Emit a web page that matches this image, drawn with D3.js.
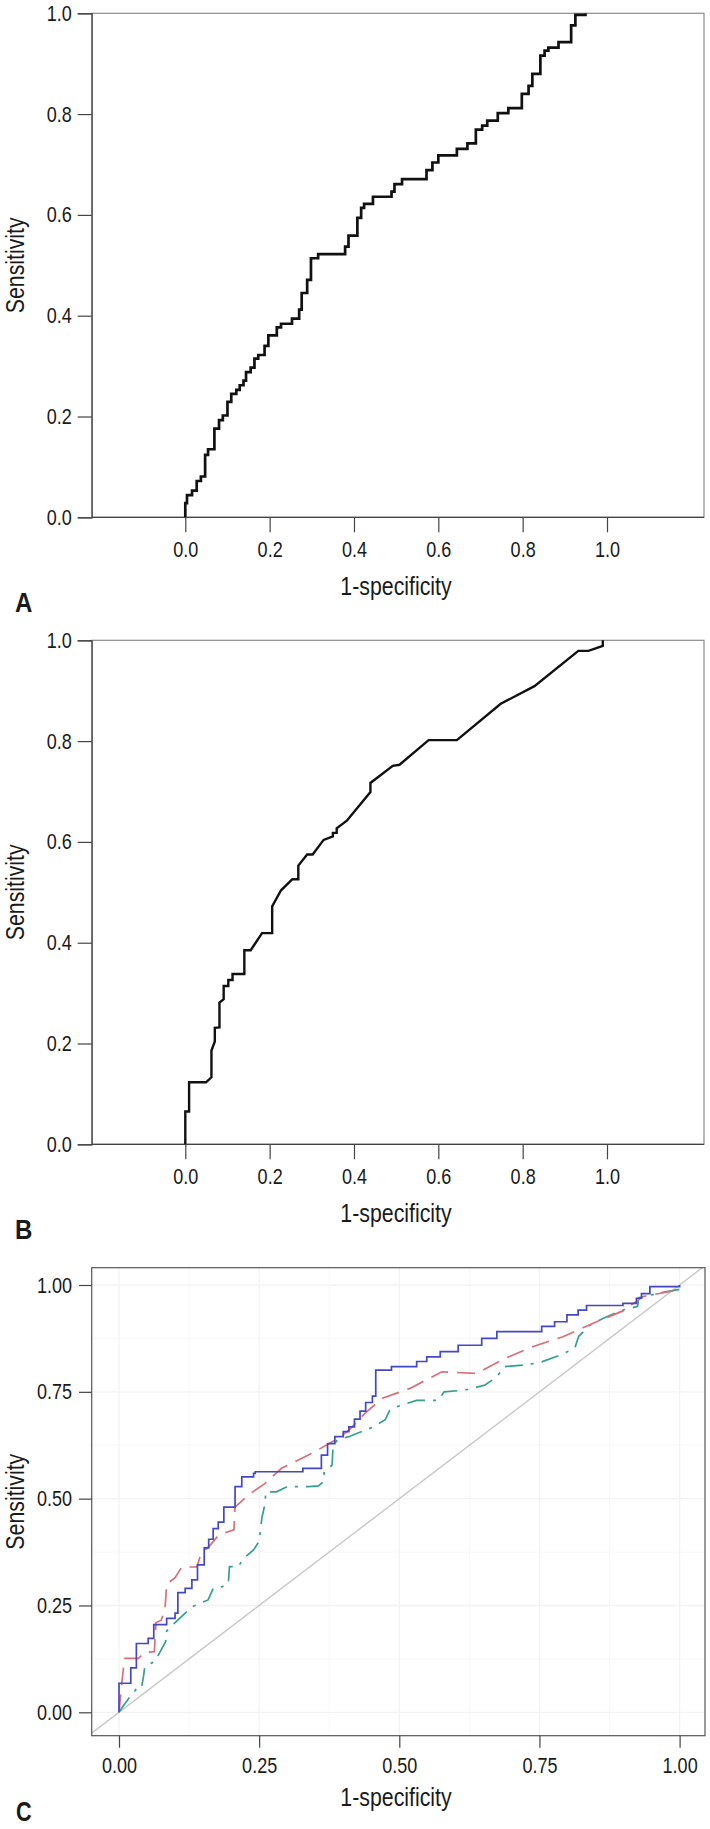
<!DOCTYPE html>
<html>
<head>
<meta charset="utf-8">
<script src="https://cdn.jsdelivr.net/npm/d3@7"></script>
<style>
  body { margin: 0; background: #fff; }
  text { font-family: 'Liberation Sans', Arial, sans-serif; fill: #1a1a1a; }
</style>
</head>
<body>
<div id="chart"></div>
<script>
// ---------- data ----------
const ticksAB = [0, 0.2, 0.4, 0.6, 0.8, 1.0];
const ticksC = [0, 0.25, 0.5, 0.75, 1.0];

// panel A: step ROC (x where the curve rises, sensitivity reached)
const rocA_fpr = [0, 0, 0.004, 0.016, 0.027, 0.037, 0.047, 0.054, 0.069, 0.080, 0.089, 0.100, 0.109, 0.121, 0.129, 0.138,
  0.144, 0.155, 0.164, 0.173, 0.188, 0.197, 0.217, 0.227, 0.253, 0.270, 0.276, 0.289, 0.298, 0.315, 0.379,
  0.387, 0.408, 0.417, 0.424, 0.445, 0.489, 0.496, 0.514, 0.572, 0.586, 0.600, 0.644, 0.669, 0.689, 0.704,
  0.716, 0.741, 0.766, 0.798, 0.814, 0.823, 0.842, 0.852, 0.861, 0.885, 0.915, 0.925, 0.949];
const rocA_tpr = [0, 0.028, 0.044, 0.053, 0.072, 0.081, 0.124, 0.135, 0.176, 0.193, 0.202, 0.229, 0.245, 0.253, 0.262, 0.271,
  0.288, 0.297, 0.315, 0.322, 0.340, 0.361, 0.377, 0.384, 0.394, 0.412, 0.445, 0.471, 0.514, 0.522, 0.537,
  0.559, 0.594, 0.614, 0.622, 0.636, 0.646, 0.661, 0.671, 0.689, 0.704, 0.718, 0.731, 0.742, 0.769, 0.777,
  0.787, 0.802, 0.812, 0.840, 0.856, 0.880, 0.916, 0.926, 0.932, 0.943, 0.976, 0.997, 1.0];

// panel B: ROC vertices
const rocB_fpr = [0, 0, 0.009, 0.009, 0.049, 0.062, 0.062, 0.070, 0.070, 0.081, 0.081, 0.091, 0.091, 0.102, 0.102,
  0.112, 0.112, 0.140, 0.140, 0.155, 0.182, 0.206, 0.206, 0.227, 0.254, 0.268, 0.268, 0.289, 0.302, 0.328,
  0.350, 0.350, 0.359, 0.359, 0.383, 0.439, 0.439, 0.492, 0.508, 0.577, 0.644, 0.748, 0.828, 0.932, 0.956, 0.990, 0.990];
const rocB_tpr = [0, 0.065, 0.065, 0.123, 0.123, 0.133, 0.186, 0.204, 0.231, 0.232, 0.281, 0.288, 0.314, 0.314, 0.326,
  0.326, 0.338, 0.338, 0.385, 0.385, 0.419, 0.419, 0.472, 0.504, 0.526, 0.526, 0.553, 0.575, 0.575, 0.604,
  0.611, 0.618, 0.618, 0.627, 0.642, 0.699, 0.717, 0.751, 0.753, 0.802, 0.802, 0.874, 0.909, 0.979, 0.979, 0.989, 1.0];

// panel C: three models
const blue_fpr = [0, 0, 0.021, 0.031, 0.052, 0.062, 0.085, 0.100, 0.105, 0.118, 0.130, 0.140, 0.152, 0.160, 0.168,
  0.177, 0.187, 0.207, 0.219, 0.240, 0.243, 0.328, 0.361, 0.372, 0.385, 0.400, 0.410, 0.420, 0.430, 0.440,
  0.452, 0.458, 0.486, 0.531, 0.549, 0.573, 0.605, 0.647, 0.674, 0.754, 0.777, 0.799, 0.819, 0.834, 0.899,
  0.923, 0.932, 0.947, 1.0];
const blue_tpr = [0, 0.068, 0.104, 0.161, 0.173, 0.205, 0.220, 0.232, 0.280, 0.290, 0.310, 0.345, 0.385, 0.405, 0.430,
  0.445, 0.480, 0.528, 0.551, 0.559, 0.563, 0.571, 0.602, 0.629, 0.645, 0.657, 0.668, 0.686, 0.705, 0.725,
  0.740, 0.801, 0.809, 0.821, 0.832, 0.844, 0.859, 0.875, 0.891, 0.903, 0.914, 0.930, 0.941, 0.952, 0.957,
  0.969, 0.980, 0.996, 1.0];

const red_fpr = [0, 0.005, 0.010, 0.035, 0.045, 0.063, 0.066, 0.075, 0.082, 0.085, 0.100, 0.112, 0.139, 0.146, 0.162,
  0.178, 0.205, 0.207, 0.230, 0.260, 0.290, 0.344, 0.391, 0.410, 0.439, 0.470, 0.519, 0.576, 0.638, 0.688,
  0.739, 0.792, 0.852, 0.900, 0.935, 0.995, 1.0];
const red_tpr = [0, 0.070, 0.126, 0.126, 0.140, 0.142, 0.210, 0.215, 0.240, 0.300, 0.315, 0.340, 0.340, 0.370, 0.390,
  0.415, 0.427, 0.480, 0.508, 0.535, 0.571, 0.606, 0.641, 0.660, 0.700, 0.735, 0.758, 0.797, 0.793, 0.828,
  0.856, 0.879, 0.914, 0.940, 0.973, 0.988, 0.990];

const teal_fpr = [0, 0.005, 0.020, 0.032, 0.040, 0.044, 0.046, 0.064, 0.083, 0.085, 0.100, 0.130, 0.159, 0.168, 0.177,
  0.195, 0.197, 0.213, 0.222, 0.240, 0.250, 0.255, 0.260, 0.262, 0.281, 0.300, 0.338, 0.356, 0.365, 0.366,
  0.380, 0.382, 0.390, 0.410, 0.454, 0.475, 0.483, 0.495, 0.531, 0.570, 0.580, 0.617, 0.653, 0.674, 0.687,
  0.727, 0.754, 0.787, 0.813, 0.820, 0.840, 0.864, 0.895, 0.925, 0.927, 0.960, 1.0];
const teal_tpr = [0, 0.010, 0.037, 0.056, 0.056, 0.087, 0.107, 0.119, 0.165, 0.190, 0.210, 0.247, 0.263, 0.290, 0.290,
  0.300, 0.341, 0.341, 0.360, 0.380, 0.400, 0.456, 0.485, 0.516, 0.516, 0.528, 0.528, 0.530, 0.540, 0.563,
  0.578, 0.625, 0.638, 0.645, 0.668, 0.685, 0.707, 0.715, 0.730, 0.730, 0.750, 0.754, 0.766, 0.785, 0.809,
  0.813, 0.820, 0.836, 0.852, 0.880, 0.906, 0.922, 0.940, 0.950, 0.970, 0.980, 0.990];

// ---------- layout ----------
const W = 710, H = 1829;
const svg = d3.select("#chart").append("svg")
  .attr("width", W).attr("height", H)
  .style("display", "block");

const zip = (xs, ys) => xs.map((v, i) => [v, ys[i]]);

// squeeze text horizontally to get the condensed look of the original
function narrow(sel, k = 0.82) {
  sel.each(function () {
    const t = d3.select(this);
    const x = +t.attr("x") || 0;
    t.attr("x", x / k);
    const tr = t.attr("transform") || "";
    t.attr("transform", `${tr} scale(${k},1)`);
  });
}

// SPSS-style panels A and B
function spssPanel(top, fpr, tpr, curve, strokeW, letter) {
  const box = { left: 91.7, right: 704, top: top, bottom: top + 504 };
  const x = d3.scaleLinear().domain([0, 1]).range([185.3, 607]);
  const y = d3.scaleLinear().domain([0, 1]).range([box.bottom, box.top]);
  const g = svg.append("g");

  // frame
  g.append("rect")
    .attr("x", box.left).attr("y", box.top)
    .attr("width", box.right - box.left).attr("height", box.bottom - box.top)
    .attr("fill", "none").attr("stroke", "#8c8c8c").attr("stroke-width", 1.2);

  const yAxis = g.append("g")
    .attr("transform", `translate(${box.left},0)`)
    .call(d3.axisLeft(y).tickValues(ticksAB).tickFormat(d3.format(".1f")).tickSize(14).tickPadding(6));
  const xAxis = g.append("g")
    .attr("transform", `translate(0,${box.bottom})`)
    .call(d3.axisBottom(x).tickValues(ticksAB).tickFormat(d3.format(".1f")).tickSize(15).tickPadding(9));
  xAxis.select(".domain").remove();
  g.append("line")
    .attr("x1", box.left).attr("x2", box.right)
    .attr("y1", box.bottom).attr("y2", box.bottom)
    .attr("stroke", "#444").attr("stroke-width", 1.2);
  [yAxis, xAxis].forEach(a => {
    a.selectAll("path,line").attr("stroke", "#444").attr("stroke-width", 1.2);
    a.selectAll("text").attr("font-size", 22).attr("fill", "#1a1a1a").call(narrow);
  });

  g.append("path")
    .datum(zip(fpr, tpr))
    .attr("fill", "none").attr("stroke", "#111").attr("stroke-width", strokeW)
    .attr("stroke-linejoin", "miter")
    .attr("d", d3.line().x(d => x(d[0])).y(d => y(d[1])).curve(curve));

  g.append("text")
    .attr("transform", `translate(24,${(box.top + box.bottom) / 2}) rotate(-90)`)
    .attr("text-anchor", "middle").attr("font-size", 26)
    .text("Sensitivity").call(narrow);
  g.append("text")
    .attr("x", 396).attr("y", box.bottom + 78)
    .attr("text-anchor", "middle").attr("font-size", 26)
    .text("1-specificity").call(narrow);
  g.append("text")
    .attr("x", 15).attr("y", box.bottom + 94.5)
    .attr("font-size", 28).attr("font-weight", "bold")
    .text(letter).call(narrow, 0.86);
}

spssPanel(13.3, rocA_fpr, rocA_tpr, d3.curveStepAfter, 2.7, "A");
spssPanel(640.3, rocB_fpr, rocB_tpr, d3.curveLinear, 2.4, "B");

// ---------- panel C (ggplot style) ----------
const boxC = { left: 91.7, right: 705, top: 1267.7, bottom: 1735.7 };
const xC = d3.scaleLinear().domain([0, 1]).range([119, 679.6]);
const yC = d3.scaleLinear().domain([0, 1]).range([1712.3, 1285]);
const gC = svg.append("g");

const minor = ticksC.slice(0, -1).map((d, i) => (d + ticksC[i + 1]) / 2);
const gridX = [xC.invert(boxC.left), xC.invert(boxC.right)];
const gridY = [yC.invert(boxC.bottom), yC.invert(boxC.top)];
gC.selectAll("line.minorv").data(minor).join("line")
  .attr("x1", d => xC(d)).attr("x2", d => xC(d))
  .attr("y1", boxC.top).attr("y2", boxC.bottom)
  .attr("stroke", "#f8f8f8").attr("stroke-width", 1);
gC.selectAll("line.minorh").data(minor).join("line")
  .attr("y1", d => yC(d)).attr("y2", d => yC(d))
  .attr("x1", boxC.left).attr("x2", boxC.right)
  .attr("stroke", "#f8f8f8").attr("stroke-width", 1);
gC.selectAll("line.majorv").data(ticksC).join("line")
  .attr("x1", d => xC(d)).attr("x2", d => xC(d))
  .attr("y1", boxC.top).attr("y2", boxC.bottom)
  .attr("stroke", "#f3f3f3").attr("stroke-width", 1.3);
gC.selectAll("line.majorh").data(ticksC).join("line")
  .attr("y1", d => yC(d)).attr("y2", d => yC(d))
  .attr("x1", boxC.left).attr("x2", boxC.right)
  .attr("stroke", "#f3f3f3").attr("stroke-width", 1.3);

// reference diagonal, corner to corner
const t0 = Math.max(gridX[0], gridY[0]), t1 = Math.min(gridX[1], gridY[1]);
gC.append("line")
  .attr("x1", xC(t0)).attr("y1", yC(t0))
  .attr("x2", xC(t1)).attr("y2", yC(t1))
  .attr("stroke", "#c8c8c8").attr("stroke-width", 1.4);

const lineC = d3.line().x(d => xC(d[0])).y(d => yC(d[1]));
gC.append("path").datum(zip(teal_fpr, teal_tpr))
  .attr("fill", "none").attr("stroke", "#35a08f").attr("stroke-width", 1.7)
  .attr("stroke-dasharray", "18,8,3,8")
  .attr("d", lineC);
gC.append("path").datum(zip(red_fpr, red_tpr))
  .attr("fill", "none").attr("stroke", "#d86f78").attr("stroke-width", 1.7)
  .attr("stroke-dasharray", "18,9")
  .attr("d", lineC);
gC.append("path").datum(zip(blue_fpr, blue_tpr))
  .attr("fill", "none").attr("stroke", "#4448c4").attr("stroke-width", 1.7)
  .attr("d", lineC.curve(d3.curveStepAfter));

gC.append("rect")
  .attr("x", boxC.left).attr("y", boxC.top)
  .attr("width", boxC.right - boxC.left).attr("height", boxC.bottom - boxC.top)
  .attr("fill", "none").attr("stroke", "#555").attr("stroke-width", 1.2);

const yAxisC = gC.append("g")
  .attr("transform", `translate(${boxC.left},0)`)
  .call(d3.axisLeft(yC).tickValues(ticksC).tickFormat(d3.format(".2f")).tickSize(12.7).tickPadding(7));
const xAxisC = gC.append("g")
  .attr("transform", `translate(0,${boxC.bottom})`)
  .call(d3.axisBottom(xC).tickValues(ticksC).tickFormat(d3.format(".2f")).tickSize(12).tickPadding(10));
[yAxisC, xAxisC].forEach(a => {
  a.select(".domain").remove();
  a.selectAll("line").attr("stroke", "#444").attr("stroke-width", 1.2);
  a.selectAll("text").attr("font-size", 22).attr("fill", "#1a1a1a").call(narrow);
});

gC.append("text")
  .attr("transform", `translate(24,${(boxC.top + boxC.bottom) / 2}) rotate(-90)`)
  .attr("text-anchor", "middle").attr("font-size", 26)
  .text("Sensitivity").call(narrow);
gC.append("text")
  .attr("x", 396).attr("y", 1806)
  .attr("text-anchor", "middle").attr("font-size", 26)
  .text("1-specificity").call(narrow);
gC.append("text")
  .attr("x", 16).attr("y", 1821)
  .attr("font-size", 27).attr("font-weight", "bold")
  .text("C").call(narrow, 0.8);
</script>
</body>
</html>
